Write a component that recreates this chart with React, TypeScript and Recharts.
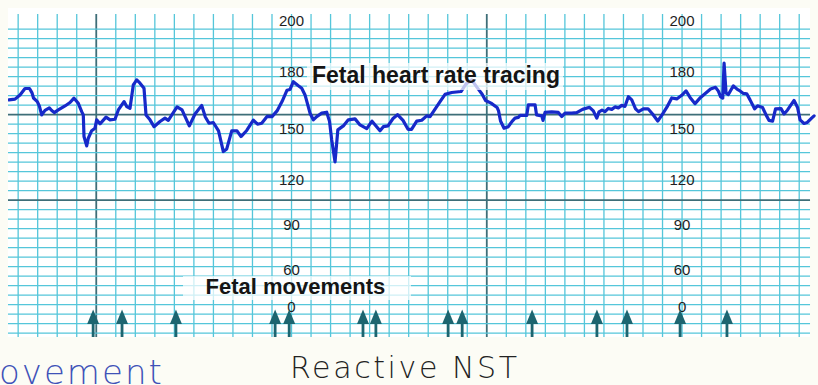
import React from 'react';
import { ComposedChart, Line, Scatter, XAxis, YAxis, ReferenceLine } from 'recharts';

// Time in minutes (each small grid division = 0.5 min), FHR in bpm
const fhrTime = [
  -0.234, -0.081, 0.047, 0.175, 0.291, 0.355, 0.393, 0.49, 0.542, 0.603, 0.688, 0.798, 0.859, 0.926, 1.028, 1.2, 1.328, 1.43, 1.54, 1.627,
  1.668, 1.686, 1.755, 1.796, 1.883, 1.968, 2.011, 2.096, 2.25, 2.352, 2.48, 2.565, 2.711, 2.78, 2.864, 2.949, 3.036, 3.12, 3.223, 3.274,
  3.376, 3.479, 3.632, 3.76, 3.845, 4.068, 4.196, 4.383, 4.529, 4.7, 4.793, 4.887, 4.997, 5.131, 5.254, 5.341, 5.469, 5.604, 5.707, 5.853,
  6.022, 6.129, 6.237, 6.373, 6.501, 6.629, 6.757, 6.885, 6.962, 7.046, 7.166, 7.261, 7.346, 7.474, 7.558, 7.645, 7.773, 7.901, 7.973, 8.029,
  8.114, 8.186, 8.326, 8.454, 8.626, 8.754, 8.926, 9.061, 9.266, 9.351, 9.471, 9.599, 9.714, 9.855, 9.983, 10.073, 10.206, 10.334, 10.462, 10.547,
  10.803, 10.931, 11.102, 11.34, 11.469, 11.614, 11.75, 11.878, 11.968, 12.109, 12.263, 12.301, 12.352, 12.442, 12.552, 12.647, 12.723, 12.808, 12.851, 13.023,
  13.064, 13.236, 13.274, 13.407, 13.44, 13.492, 13.663, 13.832, 13.919, 14.004, 14.175, 14.303, 14.452, 14.631, 14.728, 14.816, 14.874, 14.951, 15.028, 15.113,
  15.2, 15.284, 15.369, 15.456, 15.54, 15.625, 15.712, 15.809, 15.886, 16.009, 16.129, 16.245, 16.378, 16.488, 16.608, 16.736, 16.864, 16.992, 17.102, 17.205,
  17.333, 17.474, 17.602, 17.73, 17.858, 17.93, 17.986, 18.042, 18.076, 18.127, 18.186, 18.314, 18.416, 18.485, 18.57, 18.657, 18.741, 18.857, 18.933, 19.061,
  19.151, 19.228, 19.318, 19.394, 19.535, 19.612, 19.702, 19.868, 19.958, 20.022, 20.124, 20.207, 20.317, 20.381,
];
const fhrBpm = [
  162.8, 163.2, 165.4, 168.8, 168.8, 166.5, 163.8, 161.9, 159.6, 154.9, 157.3, 158.6, 157.2, 156.1, 157.5, 159.6, 161.4, 163.7, 161.0, 156.6,
  154.9, 143.5, 138.6, 142.6, 146.6, 147.9, 152.3, 150.2, 153.7, 152.3, 152.6, 157.5, 161.9, 159.3, 158.4, 170.7, 173.3, 171.6, 168.9, 154.9,
  152.3, 148.7, 151.4, 153.2, 152.0, 159.1, 157.5, 149.1, 155.4, 159.9, 153.8, 150.5, 150.9, 146.5, 135.6, 137.0, 146.5, 146.5, 143.5, 146.7,
  152.1, 150.0, 150.5, 154.1, 154.0, 157.0, 161.9, 167.9, 168.3, 172.4, 170.4, 168.9, 165.4, 155.8, 152.3, 154.0, 155.8, 156.3, 151.5, 141.7,
  130.2, 147.0, 149.1, 152.3, 152.8, 149.6, 147.7, 151.6, 146.5, 148.7, 149.1, 153.0, 155.0, 152.0, 147.3, 147.3, 151.6, 152.1, 154.4, 154.0,
  161.9, 165.7, 166.7, 167.2, 171.2, 173.3, 169.4, 165.9, 162.5, 161.1, 158.8, 157.0, 151.7, 147.9, 148.7, 151.5, 153.2, 153.6, 154.6, 154.6,
  160.2, 160.2, 154.9, 154.4, 152.0, 156.2, 156.5, 156.2, 154.0, 155.8, 155.8, 156.1, 157.8, 158.9, 157.0, 153.2, 156.5, 157.4, 156.6, 158.3,
  157.8, 159.1, 158.6, 159.9, 159.4, 164.5, 162.8, 158.1, 156.6, 158.1, 158.1, 155.4, 151.7, 154.9, 158.8, 163.8, 163.3, 165.2, 167.5, 164.1,
  160.8, 164.1, 166.3, 168.5, 169.4, 167.4, 164.5, 163.7, 182.1, 166.3, 165.6, 170.2, 168.3, 167.5, 166.2, 166.0, 162.8, 158.1, 159.7, 158.8,
  154.9, 152.0, 151.6, 158.1, 158.2, 155.4, 157.5, 162.5, 158.8, 152.3, 150.4, 150.9, 153.2, 154.4,
];

// Fetal movements (minutes)
const movementTimes = [1.92, 2.66, 4.04, 6.58, 6.94, 8.83, 9.16, 11.01, 11.37, 13.16, 14.82, 15.59, 16.95, 18.15];

// Scale labels printed on the paper
const scaleLabels = ['200', '180', '150', '120', '90', '60', '0'];
const scaleLabelLevels = [204.5, 177.7, 147.9, 120.7, 97.4, 73.7, 54.0];
const scaleLabelColumns = [7, 17];

const majorMinutes = [2, 12];
const majorBpm = [155, 110];

const X_DOMAIN: [number, number] = [-0.26, 20.43];
const Y_DOMAIN: [number, number] = [38, 208];
const GRID_RIGHT = 20.277;

const gridMinutes: number[] = [];
for (let i = 0; i <= 40; i++) gridMinutes.push(i / 2);
const gridBpm: number[] = [];
for (let b = 40; b <= 200; b += 5) gridBpm.push(b);

const fhrData = fhrTime.map((t, i) => ({ t, bpm: fhrBpm[i] }));
const movementData = movementTimes.map((t) => ({ t, bpm: Y_DOMAIN[0] }));
const labelData = scaleLabelColumns.flatMap((t) =>
  scaleLabels.map((label, i) => ({ t, bpm: scaleLabelLevels[i], label }))
);

const CREAM = '#fcfcf5';
const GRID = '#55c6da';
const GRID_DARK = '#3e6e78';
const TRACE = '#1729c9';
const ARROW = '#1d6570';

const Arrow = (p: any) => {
  const { cx, cy } = p;
  if (cx == null || cy == null) return null;
  return (
    <g>
      <rect x={cx - 1.4} y={cy - 15} width={2.8} height={15} fill={ARROW} />
      <path d={`M${cx},${cy - 27.5} L${cx + 6},${cy - 13} L${cx - 6},${cy - 13} Z`} fill={ARROW} />
    </g>
  );
};

const ScaleLabel = (p: any) => {
  const { cx, cy, payload } = p;
  if (cx == null || cy == null) return null;
  return (
    <text
      x={cx}
      y={cy}
      textAnchor="middle"
      dominantBaseline="central"
      fontFamily="'Liberation Sans', Arial, sans-serif"
      fontSize={15}
      fill="#1e1e1e"
    >
      {payload.label}
    </text>
  );
};

export default function App() {
  return (
    <div style={{ position: 'absolute', left: 0, top: 0, width: 818, height: 385, background: CREAM, overflow: 'hidden' }}>
      <div style={{ position: 'absolute', left: 8, top: 8, width: 802, height: 329, background: '#ffffff' }} />
      <div style={{ position: 'absolute', left: 0, top: 0 }}>
        <ComposedChart width={818} height={385} margin={{ top: 14, right: 2, bottom: 48, left: 8 }}>
          <XAxis type="number" dataKey="t" domain={X_DOMAIN} allowDataOverflow hide />
          <YAxis type="number" dataKey="bpm" domain={Y_DOMAIN} allowDataOverflow hide />
          {gridMinutes.map((m) => (
            <ReferenceLine
              key={`v${m}`}
              x={m}
              stroke={majorMinutes.includes(m) ? GRID_DARK : GRID}
              strokeWidth={majorMinutes.includes(m) ? 1.8 : 1.3}
              ifOverflow="extendDomain"
            />
          ))}
          {gridBpm.map((b) => (
            <ReferenceLine
              key={`h${b}`}
              segment={[{ x: X_DOMAIN[0], y: b }, { x: GRID_RIGHT, y: b }]}
              stroke={majorBpm.includes(b) ? GRID_DARK : GRID}
              strokeWidth={majorBpm.includes(b) ? 1.8 : 1.3}
            />
          ))}
          <Scatter data={labelData} shape={ScaleLabel} isAnimationActive={false} />
          <Line
            data={fhrData}
            dataKey="bpm"
            type="linear"
            stroke={TRACE}
            strokeWidth={3.2}
            strokeLinejoin="round"
            strokeLinecap="round"
            dot={false}
            isAnimationActive={false}
          />
          <Scatter data={movementData} shape={Arrow} isAnimationActive={false} />
        </ComposedChart>
      </div>
      <svg width={818} height={385} style={{ position: 'absolute', left: 0, top: 0, pointerEvents: 'none' }}>
        <rect x={307} y={63} width={256} height={27} fill="#ffffff" fillOpacity={0.72} />
        <text x={312} y={82.7} fontFamily="'Liberation Sans', Arial, sans-serif" fontWeight="bold" fontSize={23} fill="#151515">
          Fetal heart rate tracing
        </text>
        <rect x={183} y={276} width={228} height={24} fill="#ffffff" fillOpacity={0.72} />
        <text x={205.5} y={294.3} fontFamily="'Liberation Sans', Arial, sans-serif" fontWeight="bold" fontSize={22} fill="#151515">
          Fetal movements
        </text>
        <text x={290} y={378} fontFamily="'DejaVu Sans', sans-serif" fontWeight={200} fontSize={30} letterSpacing={2.6} fill="#222222">
          Reactive NST
        </text>
        <text x={-1} y={384} fontFamily="'DejaVu Sans', sans-serif" fontWeight={200} fontSize={34} letterSpacing={2} fill="#3f52b8">
          ovement
        </text>
      </svg>
    </div>
  );
}
